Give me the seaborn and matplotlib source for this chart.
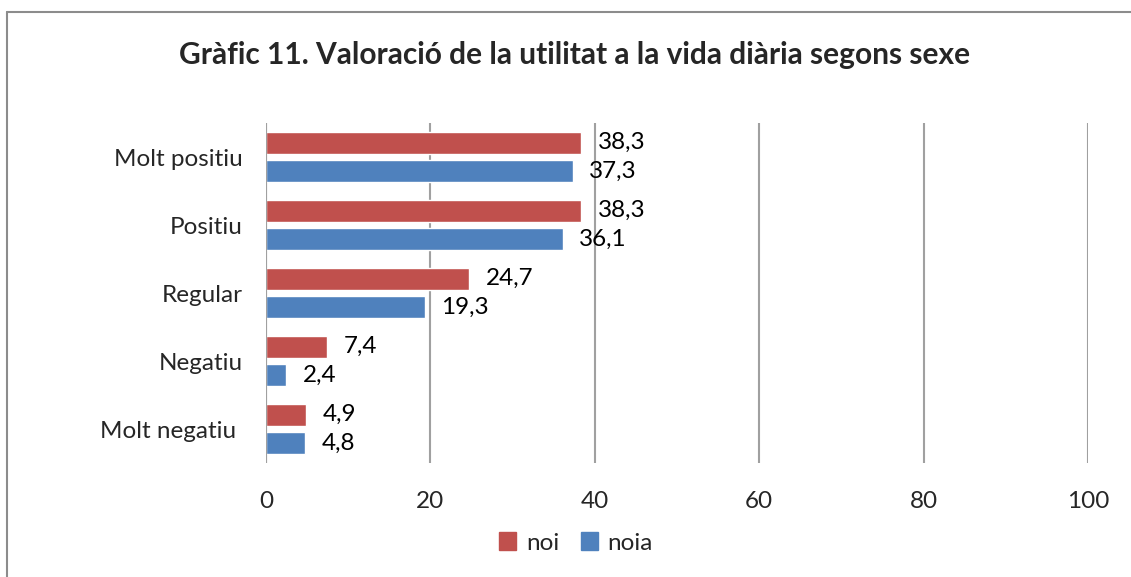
import matplotlib
matplotlib.use("Agg")
import matplotlib.pyplot as plt
import seaborn as sns
import pandas as pd
from matplotlib.patches import Rectangle

categories = ['Molt positiu', 'Positiu', 'Regular', 'Negatiu', 'Molt negatiu ']
noi = [38.3, 38.3, 24.7, 7.4, 4.9]
noia = [37.3, 36.1, 19.3, 2.4, 4.8]
series_names = ['noi', 'noia']
series_colors = ['#C0504D', '#4F81BD']
x_ticks = [0, 20, 40, 60, 80, 100]

sns.set_style('white')
plt.rcParams['font.family'] = ['Lato', 'DejaVu Sans']

df = pd.DataFrame({
    'categoria': categories * 2,
    'valor': noi + noia,
    'sexe': ['noi'] * len(categories) + ['noia'] * len(categories),
})

fig = plt.figure(figsize=(11.31, 5.77), dpi=100)
ax = fig.add_axes([266 / 1131, 1 - 463 / 577, (1088 - 266) / 1131, (463 - 123) / 577])

sns.barplot(data=df, x='valor', y='categoria', hue='sexe', orient='h',
            palette=series_colors, hue_order=series_names, order=categories,
            saturation=1, width=0.84, gap=0.23, edgecolor='white', linewidth=1, ax=ax)

# etiquetes amb coma decimal
for cont in ax.containers:
    labels = [f'{b.get_width():.1f}'.replace('.', ',') for b in cont]
    ax.bar_label(cont, labels=labels, padding=12, fontsize=17.5, color='black')

ax.set_xlim(0, 100)
ax.set_xticks(x_ticks)
ax.set_xlabel('')
ax.set_ylabel('')
ax.grid(axis='x', color='#A0A0A0', linewidth=1.5)
ax.axvline(0, color='#A0A0A0', linewidth=1.5)
ax.set_axisbelow(True)
for s in ax.spines.values():
    s.set_visible(False)
ax.tick_params(axis='x', length=0, pad=20, labelsize=17.5)
ax.tick_params(axis='y', length=0, pad=17, labelsize=17.5)

ax.legend_.remove()
handles = [Rectangle((0, 0), 1, 1, color=c) for c in series_colors]
fig.legend(handles, series_names, loc='center', bbox_to_anchor=(576 / 1131, 1 - 543 / 577),
           ncol=2, frameon=False, fontsize=17.5, handlelength=0.7, handleheight=0.7,
           handletextpad=0.4, columnspacing=0.9)

fig.text(575 / 1131, 1 - 55 / 577, 'Gràfic 11. Valoració de la utilitat a la vida diària segons sexe',
         ha='center', va='center', fontsize=21.5, fontweight='bold')

# marc del gràfic
fig.add_artist(plt.Line2D([7 / 1131, 7 / 1131], [0, 1 - 12 / 577], color='#8C8C8C', linewidth=1.5))
fig.add_artist(plt.Line2D([7 / 1131, 1], [1 - 12 / 577, 1 - 12 / 577], color='#8C8C8C', linewidth=1.5))

fig.savefig('out.png', dpi=100)
